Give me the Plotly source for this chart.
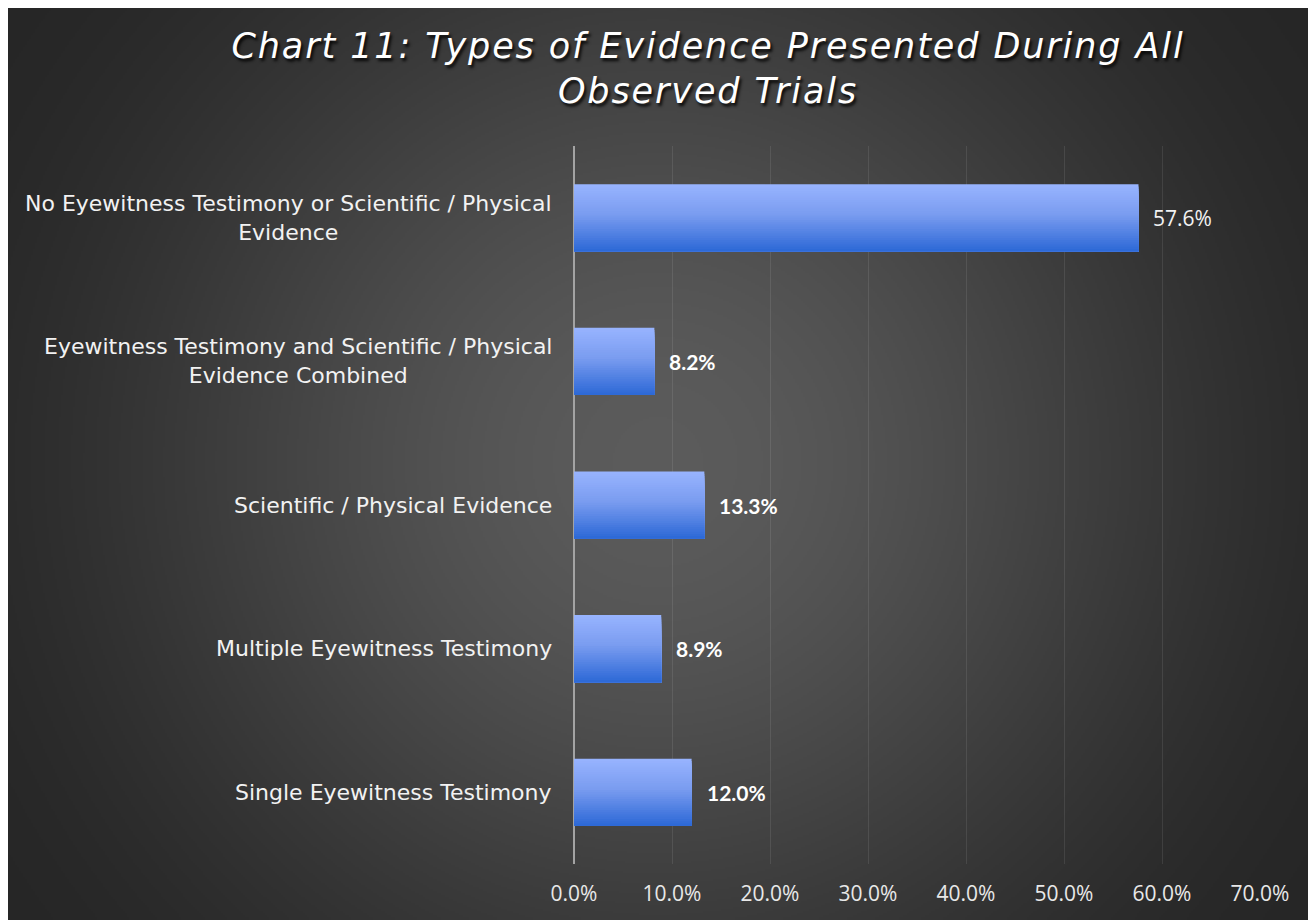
import base64
import struct
import zlib

import numpy as np
import plotly.graph_objects as go

# Data
categories = [
    "No Eyewitness Testimony or Scientific / Physical<br>Evidence",
    "Eyewitness Testimony and Scientific / Physical<br>Evidence Combined",
    "Scientific / Physical Evidence",
    "Multiple Eyewitness Testimony",
    "Single Eyewitness Testimony",
]
values = [57.6, 8.2, 13.3, 8.9, 12.0]
x_ticks = [0, 10, 20, 30, 40, 50, 60, 70]

title = "Chart 11: Types of Evidence Presented During All<br>Observed Trials"

# Layout geometry (px); the page body adds an 8px offset
W, H = 1308, 912
L, R, T, B = 566, 56, 138, 56
PW, PH = W - L - R, H - T - B


def gradient_png():
    # radial dark gradient, lighter in the middle
    w, h = 654, 456
    yy, xx = np.mgrid[0:h, 0:w].astype(float)
    xx = (xx + 0.5) * 2
    yy = (yy + 0.5) * 2
    d = np.hypot(xx - 650, yy - 454) / 805.0
    t = np.clip(d, 0, 1)
    s = 3 * t**2 - 2 * t**3
    img = (0x5B - (0x5B - 0x26) * s).round().astype(np.uint8)
    raw = b"".join(b"\x00" + row.tobytes() for row in img)

    def chunk(tag, data):
        c = struct.pack(">I", len(data)) + tag + data
        return c + struct.pack(">I", zlib.crc32(tag + data) & 0xFFFFFFFF)

    png = b"\x89PNG\r\n\x1a\n"
    png += chunk(b"IHDR", struct.pack(">IIBBBBB", w, h, 8, 0, 0, 0, 0))
    png += chunk(b"IDAT", zlib.compress(raw, 9))
    png += chunk(b"IEND", b"")
    return "data:image/png;base64," + base64.b64encode(png).decode()


def bar_colour(f):
    stops = [(0.0, (152, 180, 255)), (0.45, (122, 156, 240)), (1.0, (44, 104, 214))]
    for (a, ca), (b, cb) in zip(stops, stops[1:]):
        if a <= f <= b:
            k = (f - a) / (b - a)
            c = [round(ca[j] + (cb[j] - ca[j]) * k) for j in range(3)]
            return "rgb({},{},{})".format(*c)
    return "rgb(44,104,214)"


fig = go.Figure()

# bars drawn as stacked stripes to get the vertical gradient
bw = 0.467
N = 30
for i in range(N):
    fig.add_trace(go.Bar(
        y=categories, x=values, orientation="h",
        width=bw * (N - i) / N, offset=-bw / 2 + i * bw / N,
        marker=dict(color=bar_colour((i + 0.5) / N), line=dict(width=0)),
        hoverinfo="skip", showlegend=False,
    ))

# category labels (centred lines, right aligned box)
for c in categories:
    fig.add_annotation(
        x=0, xref="paper", y=c, yref="y", text=c, showarrow=False,
        xanchor="right", align="center", xshift=-20,
        font=dict(family="DejaVu Sans", size=22, color="#f2f2f2"),
    )

# value labels
label_bold = [False, True, True, True, True]
for c, v, bold in zip(categories, values, label_bold):
    if bold:
        f = dict(family="Lato", size=21, color="#ffffff", weight="bold")
    else:
        f = dict(family="Open Sans", size=21, color="#f2f2f2")
    fig.add_annotation(
        x=v, y=c, text=f"{v:.1f}%", showarrow=False,
        xanchor="left", xshift=13, font=f,
    )

fig.add_layout_image(
    source=gradient_png(), xref="paper", yref="paper",
    x=-L / PW, y=(H - B) / PH, sizex=W / PW, sizey=H / PH,
    xanchor="left", yanchor="top", sizing="stretch", layer="below",
)

fig.update_layout(
    width=W, height=H,
    margin=dict(l=L, r=R, t=T, b=B),
    paper_bgcolor="#262626",
    plot_bgcolor="rgba(0,0,0,0)",
    barmode="overlay",
    title=dict(
        text=title, x=700 / W, xanchor="center", y=1 - 49.5 / H, yanchor="middle",
        font=dict(family="DejaVu Sans", size=35, color="#ffffff", style="italic",
                  shadow="2px 3px 3px rgba(0,0,0,0.85)"),
    ),
    xaxis=dict(
        range=[0, 70], tickvals=x_ticks, ticktext=[f"{t:.1f}%" for t in x_ticks],
        showgrid=True, gridcolor="rgba(255,255,255,0.09)", gridwidth=1,
        zeroline=True, zerolinecolor="#a3a3a3", zerolinewidth=2,
        showline=False, ticks="", ticklabelstandoff=15,
        tickfont=dict(family="Open Sans", size=21, color="#e8e8e8"),
        fixedrange=True,
    ),
    yaxis=dict(
        autorange="reversed", showticklabels=False, showgrid=False,
        zeroline=False, showline=False, ticks="", fixedrange=True,
    ),
)

# Excel-style wide letter spacing on the title
spacing_js = (
    "document.querySelectorAll('.gtitle').forEach(function(e){"
    "e.style.letterSpacing='1.9px';});"
)

fig.write_html("out.html", post_script=spacing_js)
